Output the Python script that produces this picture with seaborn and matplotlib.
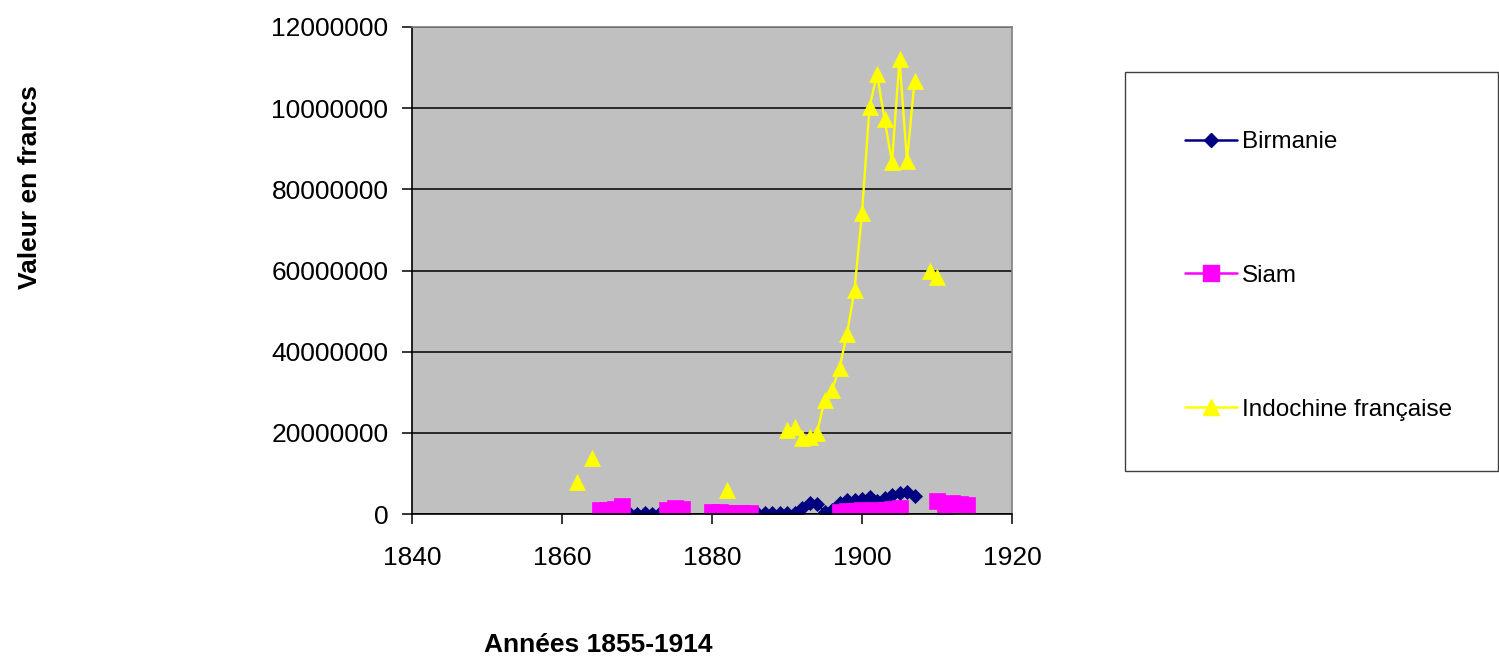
import numpy as np
import pandas as pd
import matplotlib
matplotlib.use("Agg")
import matplotlib.pyplot as plt
import seaborn as sns
from matplotlib.lines import Line2D
from matplotlib.patches import Rectangle

# ---------------- data ----------------
series_names = ["Birmanie", "Siam", "Indochine française"]

birmanie_years = [1869, 1870, 1871, 1872, 1873,
                  1880, 1881, 1882, 1883, 1884, 1885, 1886, 1887, 1888, 1889,
                  1890, 1891, 1892, 1893, 1894, 1895, 1896, 1897, 1898, 1899,
                  1900, 1901, 1902, 1903, 1904, 1905, 1906, 1907]
birmanie_values = [100000, 50000, 150000, 50000, 300000,
                   300000, 300000, 300000, 300000, 300000, 300000, 200000, 300000, 200000, 300000,
                   200000, 300000, 1500000, 2700000, 2500000, 600000, 1000000, 2800000, 3400000, 3500000,
                   3800000, 4200000, 3200000, 4000000, 4600000, 5200000, 5400000, 4400000]

siam_years = [1865, 1866, 1867, 1868,
              1874, 1875, 1876,
              1880, 1881, 1882, 1883, 1884, 1885,
              1897, 1898, 1899, 1900, 1901, 1902, 1903, 1904, 1905,
              1910, 1911, 1912, 1913, 1914]
siam_values = [1000000, 1000000, 1200000, 2000000,
               1000000, 1500000, 1200000,
               400000, 400000, 300000, 300000, 300000, 300000,
               600000, 800000, 800000, 900000, 800000, 900000, 1000000, 1300000, 1400000,
               3200000, 1500000, 2600000, 2500000, 2200000]

indochine_years = [1862, 1864, 1882,
                   1890, 1891, 1892, 1893, 1894, 1895, 1896, 1897, 1898, 1899,
                   1900, 1901, 1902, 1903, 1904, 1905, 1906, 1907,
                   1909, 1910]
indochine_values = [7900000, 13800000, 5900000,
                    20700000, 21400000, 18700000, 19000000, 20000000, 28000000, 30500000, 36000000,
                    44400000, 55200000,
                    74200000, 100300000, 108400000, 97300000, 86700000, 112100000, 87000000, 106700000,
                    59900000, 58400000]

y_tick_values = [0, 20000000, 40000000, 60000000, 80000000, 100000000, 120000000]
y_tick_labels = ["0", "20000000", "40000000", "60000000", "80000000", "10000000", "12000000"]
x_tick_values = [1840, 1860, 1880, 1900, 1920]

colors = {"Birmanie": "#000080", "Siam": "#FF00FF", "Indochine française": "#FFFF00"}
markers = {"Birmanie": "D", "Siam": "s", "Indochine française": "^"}
msizes = {"Birmanie": 7.5, "Siam": 11.0, "Indochine française": 11.5}


def build(name, years, values):
    yrs = np.array(years)
    seg = np.concatenate([[0], np.cumsum(np.diff(yrs) > 1)])
    return pd.DataFrame({"pays": name, "annee": yrs, "valeur": values, "segment": seg})


df = pd.concat([
    build("Birmanie", birmanie_years, birmanie_values),
    build("Siam", siam_years, siam_values),
    build("Indochine française", indochine_years, indochine_values),
], ignore_index=True)

# ---------------- style ----------------
sns.set_style("white")
plt.rcParams["font.family"] = ["Liberation Sans", "DejaVu Sans"]
plt.rcParams["text.color"] = "black"
plt.rcParams["axes.labelcolor"] = "black"

fig = plt.figure(figsize=(14.99, 6.57), dpi=100)
ax = fig.add_axes([412 / 1499, 1 - 514 / 657, 600 / 1499, 487 / 657])
ax.set_facecolor("#C0C0C0")

for name in series_names:
    sub = df[df["pays"] == name]
    sns.lineplot(data=sub, x="annee", y="valeur", units="segment", estimator=None,
                 color=colors[name], marker=markers[name], markersize=msizes[name],
                 markeredgecolor=colors[name], markeredgewidth=0.5,
                 linewidth=1.7, ax=ax, legend=False, sort=True)

ax.set_xlim(1840, 1920)
ax.set_ylim(0, 120000000)
ax.set_xticks(x_tick_values)
ax.set_xticklabels([str(v) for v in x_tick_values], fontsize=19)
ax.set_yticks(y_tick_values)
ax.set_yticklabels(y_tick_labels, fontsize=19)
ax.set_xlabel("")
ax.set_ylabel("")

ax.yaxis.grid(True, color="black", linewidth=1.1)
ax.xaxis.grid(False)
ax.set_axisbelow(True)

for s in ["left", "bottom"]:
    ax.spines[s].set_color("black")
    ax.spines[s].set_linewidth(1.2)
for s in ["top", "right"]:
    ax.spines[s].set_color("#808080")
    ax.spines[s].set_linewidth(1.2)

ax.tick_params(axis="both", which="major", direction="out", length=7, width=1.1,
               color="black", labelcolor="black")
ax.tick_params(axis="x", pad=16)
ax.tick_params(axis="y", pad=10)
ax.tick_params(left=True, bottom=True)

fig.text(30 / 1499, 1 - 187 / 657, "Valeur en francs", rotation=90, fontsize=19,
         fontweight="bold", ha="center", va="center", color="black")
fig.text(598 / 1499, 1 - 645 / 657, "Années 1855-1914", fontsize=19,
         fontweight="bold", ha="center", va="center", color="black")

# legend box
fig.patches.append(Rectangle((1125 / 1499, 1 - 471 / 657), (1499 - 1125) / 1499 - 0.0008,
                             (471 - 72) / 657, transform=fig.transFigure,
                             facecolor="white", edgecolor="#404040", linewidth=1.0, zorder=0))

handles = [Line2D([0], [0], color=colors[n], marker=markers[n],
                  markersize=msizes[n], markeredgecolor=colors[n], linewidth=1.8)
           for n in series_names]
leg = fig.legend(handles, series_names, loc="upper left",
                 bbox_to_anchor=(1185 / 1499, 1 - 131 / 657), frameon=False,
                 fontsize=17.5, labelspacing=4.6, handlelength=2.15, handletextpad=0.2,
                 borderpad=0, borderaxespad=0)
for t in leg.get_texts():
    t.set_color("black")

fig.savefig("out.png", dpi=100, facecolor="white")
